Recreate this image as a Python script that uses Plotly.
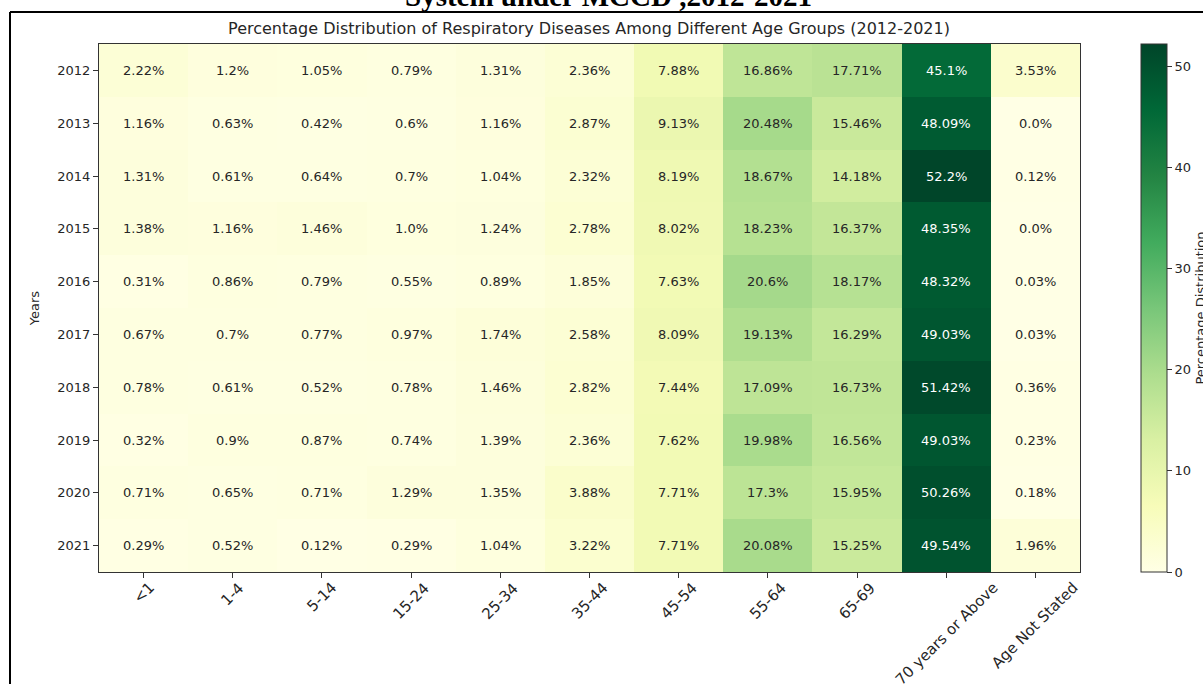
import plotly.graph_objects as go

age_groups = ["<1", "1-4", "5-14", "15-24", "25-34", "35-44", "45-54",
              "55-64", "65-69", "70 years or Above", "Age Not Stated"]
years = ["2012", "2013", "2014", "2015", "2016", "2017", "2018", "2019", "2020", "2021"]

pct_2012 = [2.22, 1.2, 1.05, 0.79, 1.31, 2.36, 7.88, 16.86, 17.71, 45.1, 3.53]
pct_2013 = [1.16, 0.63, 0.42, 0.6, 1.16, 2.87, 9.13, 20.48, 15.46, 48.09, 0.0]
pct_2014 = [1.31, 0.61, 0.64, 0.7, 1.04, 2.32, 8.19, 18.67, 14.18, 52.2, 0.12]
pct_2015 = [1.38, 1.16, 1.46, 1.0, 1.24, 2.78, 8.02, 18.23, 16.37, 48.35, 0.0]
pct_2016 = [0.31, 0.86, 0.79, 0.55, 0.89, 1.85, 7.63, 20.6, 18.17, 48.32, 0.03]
pct_2017 = [0.67, 0.7, 0.77, 0.97, 1.74, 2.58, 8.09, 19.13, 16.29, 49.03, 0.03]
pct_2018 = [0.78, 0.61, 0.52, 0.78, 1.46, 2.82, 7.44, 17.09, 16.73, 51.42, 0.36]
pct_2019 = [0.32, 0.9, 0.87, 0.74, 1.39, 2.36, 7.62, 19.98, 16.56, 49.03, 0.23]
pct_2020 = [0.71, 0.65, 0.71, 1.29, 1.35, 3.88, 7.71, 17.3, 15.95, 50.26, 0.18]
pct_2021 = [0.29, 0.52, 0.12, 0.29, 1.04, 3.22, 7.71, 20.08, 15.25, 49.54, 1.96]

rows = [pct_2012, pct_2013, pct_2014, pct_2015, pct_2016,
        pct_2017, pct_2018, pct_2019, pct_2020, pct_2021]

W, H = 1203, 684
L, R, T, B = 99, 1080, 44, 572   # plot area in pixels
pw, ph = R - L, B - T


def px_x(px):
    return (px - L) / pw


def px_y(py):
    return (B - py) / ph


FONT = "DejaVu Sans"
TXT = "#262626"

vmax = max(max(r) for r in rows)
col_idx = list(range(len(age_groups)))
row_idx = list(range(len(years)))

fig = go.Figure(go.Heatmap(
    z=rows, x=col_idx, y=row_idx,
    colorscale="YlGn", zmin=0, zmax=vmax,
    xgap=0, ygap=0, hoverinfo="skip",
    colorbar=dict(
        x=px_x(1141), xanchor="left", xref="paper", xpad=0,
        y=0, yanchor="bottom", yref="paper", ypad=0,
        len=1.0, lenmode="fraction",
        thickness=26, thicknessmode="pixels",
        outlinecolor="#333333", outlinewidth=1,
        tickmode="array", tickvals=[0, 10, 20, 30, 40, 50],
        ticks="outside", ticklen=5, tickcolor="#333333",
        tickfont=dict(family=FONT, size=13, color=TXT),
        title=dict(text="Percentage Distribution", side="right",
                   font=dict(family=FONT, size=13, color=TXT)),
    ),
))

annotations = []
for r, row in zip(row_idx, rows):
    for c, v in zip(col_idx, row):
        annotations.append(dict(
            x=c, y=r, xref="x", yref="y", text=f"{v}%", showarrow=False,
            font=dict(family=FONT, size=13,
                      color="white" if v > 30 else TXT),
        ))

# rotated category labels, centred under each tick
for c, grp in zip(col_idx, age_groups):
    annotations.append(dict(
        x=c, y=0, xref="x", yref="paper", text=grp, showarrow=False,
        textangle=-45, xanchor="center", yanchor="top", yshift=-4,
        font=dict(family=FONT, size=15, color=TXT),
    ))

# document caption above the frame
annotations.append(dict(
    x=px_x(608), y=px_y(-4), xref="paper", yref="paper",
    text="<b>System under MCCD ,2012-2021</b>", showarrow=False,
    xanchor="center", yanchor="middle",
    font=dict(family="Liberation Serif", size=29, color="#000000"),
))

fig.update_layout(
    width=W, height=H,
    margin=dict(l=L, r=W - R, t=T, b=H - B, autoexpand=False),
    paper_bgcolor="white", plot_bgcolor="white",
    title=dict(
        text="Percentage Distribution of Respiratory Diseases Among Different Age Groups (2012-2021)",
        x=px_x(589), xref="paper", xanchor="center",
        y=1 - 28 / H, yref="container", yanchor="middle",
        font=dict(family=FONT, size=16, color=TXT),
    ),
    annotations=annotations,
    shapes=[
        dict(type="line", xref="paper", yref="paper",
             x0=px_x(10), x1=px_x(1210), y0=px_y(12), y1=px_y(12),
             line=dict(color="black", width=2)),
        dict(type="line", xref="paper", yref="paper",
             x0=px_x(10), x1=px_x(10), y0=px_y(12), y1=px_y(700),
             line=dict(color="black", width=2)),
    ],
    xaxis=dict(
        range=[-0.5, len(age_groups) - 0.5], autorange=False,
        tickmode="array", tickvals=col_idx,
        showticklabels=False, ticks="outside", ticklen=5, tickcolor="#333333",
        showline=True, linecolor="#333333", linewidth=1, mirror=True,
        showgrid=False, zeroline=False,
    ),
    yaxis=dict(
        range=[len(years) - 0.5, -0.5], autorange=False,
        tickmode="array", tickvals=row_idx, ticktext=years,
        ticks="outside", ticklen=5, tickcolor="#333333",
        tickfont=dict(family=FONT, size=13, color=TXT),
        showline=True, linecolor="#333333", linewidth=1, mirror=True,
        showgrid=False, zeroline=False,
        title=dict(text="Years", font=dict(family=FONT, size=13, color=TXT),
                   standoff=14),
    ),
)

fig.write_html("out.html")
